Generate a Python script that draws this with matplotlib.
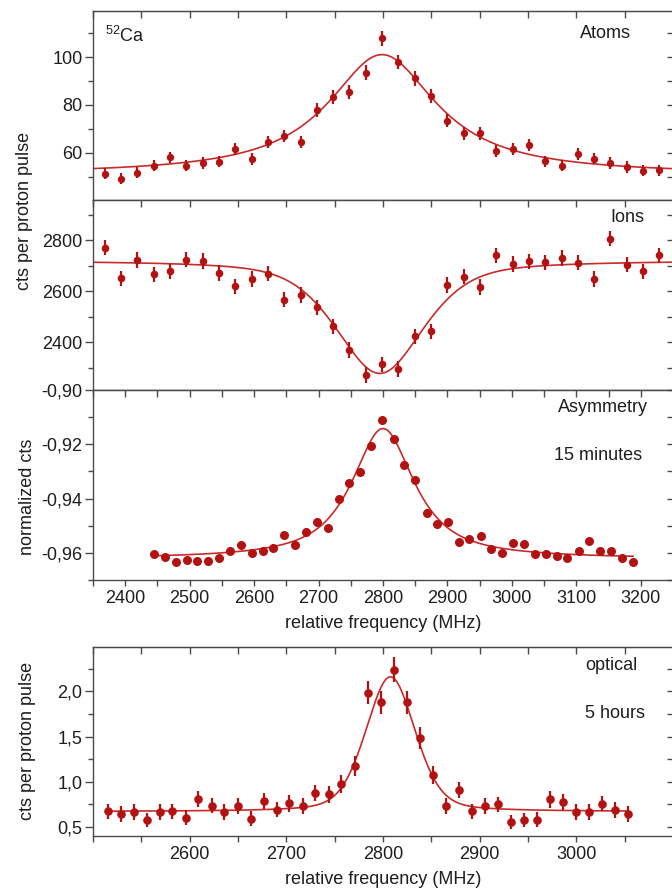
import numpy as np
import matplotlib
matplotlib.use("Agg")
import matplotlib.pyplot as plt
from matplotlib.ticker import MultipleLocator, FixedLocator, FuncFormatter, NullFormatter

plt.rcParams['font.family'] = ['Liberation Sans', 'DejaVu Sans']
plt.rcParams['mathtext.fontset'] = 'custom'
plt.rcParams['mathtext.rm'] = 'Liberation Sans'

# ---------------- data ----------------
atoms_freq = [2368, 2393, 2418, 2444, 2469, 2495, 2520, 2545, 2570, 2596, 2621, 2646,
              2672, 2697, 2723, 2747, 2773, 2798, 2824, 2849, 2874, 2900, 2925, 2950,
              2976, 3001, 3027, 3052, 3077, 3102, 3128, 3153, 3179, 3204, 3229, 3255]
atoms_cts = [51.3, 49.2, 51.8, 54.7, 58.2, 54.7, 55.8, 56.4, 61.8, 57.4, 64.4, 67.2,
             64.6, 77.9, 83.5, 85.3, 93.5, 107.8, 97.9, 91.1, 83.8, 73.5, 68.2, 68.2,
             61.0, 61.8, 63.5, 56.5, 54.7, 59.6, 57.6, 55.8, 54.2, 52.5, 52.8, 55.8]
atoms_err = [2.3, 2.3, 2.3, 2.4, 2.4, 2.4, 2.4, 2.4, 2.5, 2.4, 2.5, 2.5,
             2.5, 2.8, 2.9, 2.9, 3.0, 3.2, 3.1, 3.0, 2.9, 2.7, 2.6, 2.6,
             2.5, 2.5, 2.5, 2.4, 2.4, 2.5, 2.4, 2.4, 2.4, 2.3, 2.3, 2.4]
atoms_fit = dict(base=51.0, amp=50.0, center=2798.5, hwhm=102.6, eta=1.0)

ions_freq = atoms_freq
ions_cts = [2770, 2650, 2722, 2666, 2678, 2723, 2718, 2671, 2618, 2647, 2668, 2566,
            2584, 2536, 2462, 2369, 2271, 2313, 2294, 2422, 2442, 2624, 2656, 2616,
            2740, 2706, 2716, 2713, 2729, 2711, 2647, 2805, 2703, 2677, 2740, 2734]
ions_err = [30] * 36
ions_fit = dict(base=2720.0, amp=-443.0, center=2795.0, hwhm=81.0, eta=0.5)

asym_freq = [2445, 2462, 2479, 2496, 2512, 2529, 2546, 2563, 2580, 2597, 2614, 2630,
             2647, 2664, 2681, 2698, 2715, 2731, 2748, 2765, 2782, 2798, 2817, 2833,
             2850, 2868, 2884, 2901, 2918, 2934, 2952, 2968, 2985, 3002, 3019, 3036,
             3053, 3070, 3086, 3104, 3120, 3137, 3154, 3171, 3188]
asym_val = [-0.9604, -0.9616, -0.9633, -0.9627, -0.9631, -0.9630, -0.9620, -0.9592,
            -0.9571, -0.9600, -0.9592, -0.9581, -0.9536, -0.9570, -0.9522, -0.9485,
            -0.9508, -0.9402, -0.9342, -0.9303, -0.9208, -0.9110, -0.9180, -0.9275,
            -0.9333, -0.9452, -0.9495, -0.9488, -0.9560, -0.9550, -0.9539, -0.9587,
            -0.9602, -0.9564, -0.9569, -0.9604, -0.9603, -0.9611, -0.9618, -0.9594,
            -0.9556, -0.9593, -0.9594, -0.9619, -0.9633]
asym_err = [0.0012] * 45
asym_fit = dict(base=-0.9622, amp=0.048, center=2800.0, hwhm=58.0, eta=0.9)

opt_freq = [2515, 2529, 2542, 2556, 2569, 2582, 2596, 2609, 2623, 2636, 2650, 2663,
            2677, 2690, 2703, 2717, 2730, 2744, 2757, 2771, 2784, 2798, 2811, 2825,
            2838, 2852, 2865, 2879, 2892, 2906, 2919, 2932, 2946, 2959, 2973, 2986,
            3000, 3013, 3027, 3040, 3053]
opt_cts = [0.674, 0.645, 0.667, 0.574, 0.667, 0.674, 0.604, 0.808, 0.737, 0.667, 0.730, 0.593,
           0.789, 0.693, 0.760, 0.733, 0.878, 0.860, 0.978, 1.178, 1.986, 1.878, 2.241, 1.878,
           1.482, 1.078, 0.730, 0.908, 0.674, 0.730, 0.749, 0.552, 0.574, 0.582, 0.804, 0.774,
           0.667, 0.667, 0.756, 0.686, 0.645]
opt_err = [0.085, 0.085, 0.085, 0.08, 0.085, 0.085, 0.08, 0.09, 0.085, 0.085, 0.085, 0.08,
           0.09, 0.085, 0.09, 0.085, 0.09, 0.09, 0.1, 0.11, 0.13, 0.13, 0.14, 0.13,
           0.12, 0.1, 0.085, 0.09, 0.085, 0.085, 0.085, 0.08, 0.08, 0.08, 0.09, 0.09,
           0.085, 0.085, 0.085, 0.085, 0.085]
opt_fit = dict(base=0.67, amp=1.49, center=2807.7, hwhm=30.2, eta=0.3)
opt_xticks = [2600, 2700, 2800, 2900, 3000]

# ---------------- helpers ----------------
def pvoigt(x, base, amp, center, hwhm, eta):
    u = (np.asarray(x) - center) / hwhm
    lor = 1.0 / (1.0 + u ** 2)
    gau = np.exp(-np.log(2) * u ** 2)
    return base + amp * (eta * lor + (1 - eta) * gau)

W, H = 672, 892
MK = '#b31212'
FIT = '#c92a2a'
SP = '#4a4a4a'
TXT = '#1e1e1e'

def box(l, t, r, b):
    return [l / W, 1 - b / H, (r - l) / W, (b - t) / H]

def fx(px):
    return px / W

def fy(py):
    return 1 - py / H

fig = plt.figure(figsize=(6.72, 8.92), dpi=100)
ax1 = fig.add_axes(box(93, 10.7, 673, 200))
ax2 = fig.add_axes(box(93, 200, 673, 390))
ax3 = fig.add_axes(box(93, 390, 673, 580))
ax4 = fig.add_axes(box(93, 647, 673, 836))

def style(ax, xlim, ylim, ymaj, ymin, top_ticks, yfmt=None, bottom=True, xmajor=None):
    ax.set_xlim(xlim)
    ax.set_ylim(ylim)
    for s in ax.spines.values():
        s.set_color(SP)
        s.set_linewidth(1.0)
    ax.yaxis.set_major_locator(MultipleLocator(ymaj))
    ax.yaxis.set_minor_locator(MultipleLocator(ymin))
    if yfmt is not None:
        ax.yaxis.set_major_formatter(FuncFormatter(yfmt))
    ax.tick_params(axis='y', which='both', direction='out', left=True, right=False,
                   colors=SP, labelcolor=TXT, labelsize=13, pad=1.5)
    ax.tick_params(axis='y', which='major', length=6, width=1)
    ax.tick_params(axis='y', which='minor', length=3.5, width=1)
    if bottom:
        if xmajor is None:
            ax.xaxis.set_major_locator(MultipleLocator(100))
        else:
            ax.xaxis.set_major_locator(FixedLocator(xmajor))
        ax.xaxis.set_minor_locator(MultipleLocator(50))
        ax.tick_params(axis='x', which='both', direction='out', bottom=True, top=False,
                       colors=SP, labelcolor=TXT, labelsize=13, pad=3)
        ax.tick_params(axis='x', which='major', length=4, width=1)
        ax.tick_params(axis='x', which='minor', length=4, width=1)
    else:
        ax.tick_params(axis='x', which='both', bottom=False, top=False, labelbottom=False)
    # right side inward ticks
    sy = ax.secondary_yaxis('right')
    sy.yaxis.set_major_locator(MultipleLocator(ymaj))
    sy.yaxis.set_minor_locator(MultipleLocator(ymin))
    sy.yaxis.set_major_formatter(NullFormatter())
    sy.tick_params(axis='y', which='both', direction='in', length=4, width=1, colors=SP)
    sy.spines['right'].set_color(SP)
    # top inward ticks
    sx = ax.secondary_xaxis('top')
    sx.xaxis.set_major_locator(FixedLocator(top_ticks))
    sx.xaxis.set_major_formatter(NullFormatter())
    sx.tick_params(axis='x', which='major', direction='in', length=5, width=1, colors=SP)
    sx.spines['top'].set_color(SP)

def comma(nd):
    return lambda v, p: f"{v:.{nd}f}".replace('.', ',')

xlim_top = (2350, 3250)
top75 = np.arange(2350, 3251, 75)
top50a = np.arange(2350, 3251, 50)
top50b = np.arange(2500, 3101, 50)

style(ax1, xlim_top, (40.4, 119.3), 20, 10, top75, bottom=False)
style(ax2, xlim_top, (2212, 2957), 200, 100, top75, bottom=False)
style(ax3, xlim_top, (-0.97, -0.90), 0.02, 0.01, top50a, yfmt=comma(2))
style(ax4, (2500, 3100), (0.40, 2.49), 0.5, 0.25, top50b, yfmt=comma(1), xmajor=opt_xticks)

ekw = dict(fmt='o', color=MK, ecolor=MK, elinewidth=1.6, capsize=0, zorder=3,
           markeredgewidth=0)

xf_top = np.linspace(*xlim_top, 600)
ax1.plot(xf_top, pvoigt(xf_top, **atoms_fit), color=FIT, lw=1.2, zorder=2)
ax1.errorbar(atoms_freq, atoms_cts, yerr=atoms_err, ms=5.3, clip_on=False, **ekw)

ax2.plot(xf_top, pvoigt(xf_top, **ions_fit), color=FIT, lw=1.2, zorder=2)
ax2.errorbar(ions_freq, ions_cts, yerr=ions_err, ms=5.5, clip_on=False, **ekw)

xf_asym = np.linspace(min(asym_freq) + 8, max(asym_freq), 600)
ax3.plot(xf_asym, pvoigt(xf_asym, **asym_fit), color=FIT, lw=1.2, zorder=2)
ax3.errorbar(asym_freq, asym_val, yerr=asym_err, ms=6.5, **ekw)

xf_opt = np.linspace(2500, 3100, 600)
xf_opt = xf_opt[(xf_opt >= min(opt_freq)) & (xf_opt <= max(opt_freq))]
ax4.plot(xf_opt, pvoigt(xf_opt, **opt_fit), color=FIT, lw=1.2, zorder=2)
ax4.errorbar(opt_freq, opt_cts, yerr=opt_err, ms=6.2, **ekw)

ax3.set_xlabel('relative frequency (MHz)', fontsize=13, color=TXT, labelpad=6)
ax4.set_xlabel('relative frequency (MHz)', fontsize=13, color=TXT, labelpad=6)

fig.text(fx(25), fy(211), 'cts per proton pulse', rotation=90, ha='center', va='center',
         fontsize=13, color=TXT)
fig.text(fx(28), fy(497), 'normalized cts', rotation=90, ha='center', va='center',
         fontsize=13, color=TXT)
fig.text(fx(27), fy(741), 'cts per proton pulse', rotation=90, ha='center', va='center',
         fontsize=13, color=TXT)

fig.text(fx(105), fy(36), r'$^{\mathregular{52}}$Ca', ha='left', va='center', fontsize=13, color=TXT)
fig.text(fx(580), fy(33), 'Atoms', ha='left', va='center', fontsize=13, color=TXT)
fig.text(fx(610), fy(217), 'Ions', ha='left', va='center', fontsize=13, color=TXT)
fig.text(fx(558), fy(408), 'Asymmetry', ha='left', va='center', fontsize=13, color=TXT)
fig.text(fx(554), fy(455), '15 minutes', ha='left', va='center', fontsize=13, color=TXT)
fig.text(fx(585), fy(666), 'optical', ha='left', va='center', fontsize=13, color=TXT)
fig.text(fx(585), fy(713), '5 hours', ha='left', va='center', fontsize=13, color=TXT)

fig.savefig('out.png', dpi=100)
